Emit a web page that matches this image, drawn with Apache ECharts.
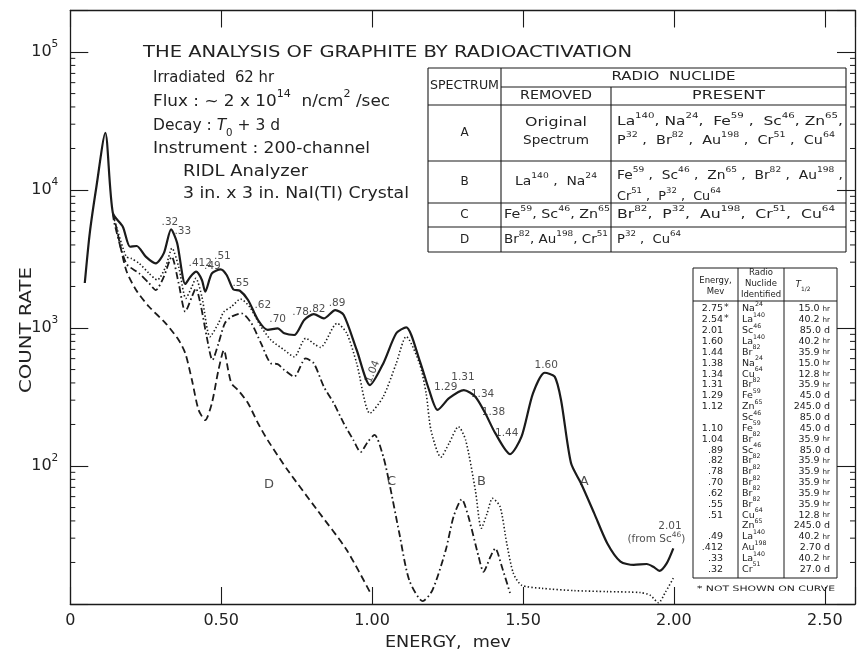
<!DOCTYPE html>
<html>
<head>
<meta charset="utf-8">
<script src="https://cdn.jsdelivr.net/npm/echarts@6.0.0/dist/echarts.min.js"></script>
<style>
html,body{margin:0;padding:0;background:#ffffff;}
#chart{width:858px;height:653px;}
</style>
</head>
<body>
<div id="chart"></div>
<script>
// ================= DATA =================
const xTickValues = [0, 0.5, 1.0, 1.5, 2.0, 2.5];
const xTickLabels = ['0', '0.50', '1.00', '1.50', '2.00', '2.50'];
const yDecadeValues = [100, 1000, 10000, 100000];
const yDecadeExponents = ['2', '3', '4', '5'];
const yMinorMultipliers = [2, 3, 4, 5, 6, 7, 8, 9];

// Spectrum A (solid) : energy (MeV) and count rate
const energyA = [0.048,0.0645,0.0865,0.116,0.141,0.174,0.198,0.220,0.250,0.283,0.310,0.334,0.354,0.381,0.398,0.417,0.436,0.447,0.469,0.498,0.518,0.540,0.562,0.589,0.622,0.654,0.687,0.709,0.742,0.775,0.807,0.840,0.878,0.906,0.949,0.993,1.037,1.080,1.113,1.157,1.189,1.217,1.255,1.304,1.342,1.375,1.408,1.457,1.495,1.533,1.572,1.605,1.626,1.659,1.692,1.736,1.779,1.823,1.867,1.910,1.932,1.952,1.976,1.998];
const countA = [2120,4880,10570,26000,6810,5420,3880,3930,3290,2944,3490,5190,4130,2085,2355,2560,2230,1833,2489,2661,2422,1905,1862,1596,1143,968,995,916,890,1143,1262,1175,1349,1242,693,386,554,916,1012,586,355,255,310,355,318,241,173,122,163,336,474,444,301,105,75,45.4,27.6,20.3,19.2,19.5,18.6,17.4,19.7,25.3];

// Spectrum B (dotted)
const energyB = [0.141,0.146,0.185,0.201,0.228,0.261,0.288,0.316,0.337,0.359,0.383,0.403,0.416,0.436,0.463,0.491,0.509,0.534,0.564,0.594,0.632,0.665,0.709,0.742,0.780,0.813,0.829,0.884,0.916,0.949,0.993,1.037,1.080,1.113,1.157,1.179,1.195,1.228,1.255,1.286,1.310,1.342,1.362,1.381,1.399,1.424,1.446,1.468,1.495,1.561,1.670,1.779,1.889,1.921,1.949,1.972,1.998];
const countB = [6810,6070,3290,3200,2944,2489,2230,2780,3785,2780,1641,1990,2291,1686,865,1082,1312,1426,1622,1426,1021,818,693,619,842,753,724,1082,916,554,241,318,554,867,554,336,182,116,146,193,154,67,35.4,45.4,58.3,50.7,27.6,16.7,13.7,13.0,12.5,12.3,12.1,11.6,10.2,12.2,15.4];

// Spectrum C (dash-dot)
const energyC = [0.141,0.146,0.185,0.228,0.261,0.283,0.310,0.336,0.359,0.381,0.403,0.416,0.431,0.452,0.471,0.491,0.512,0.534,0.567,0.600,0.632,0.665,0.687,0.709,0.742,0.780,0.807,0.840,0.873,0.906,0.938,0.962,0.985,1.008,1.037,1.057,1.090,1.123,1.168,1.200,1.244,1.270,1.297,1.319,1.353,1.369,1.392,1.408,1.430,1.457];
const countC = [6810,5740,2944,2489,2110,1884,2355,3290,2110,1312,1686,1941,1510,865,586,774,1082,1208,1278,1082,774,554,548,497,444,603,554,376,285,204,154,126,149,168,117,75.3,32.7,14.9,10.5,12.6,24.6,43,57.4,43,22,17.1,22,25.3,18.6,12.0];

// Spectrum D (dashed)
const energyD = [0.141,0.152,0.185,0.218,0.261,0.316,0.359,0.381,0.403,0.425,0.447,0.469,0.491,0.509,0.523,0.534,0.556,0.589,0.622,0.654,0.720,0.818,0.916,0.998];
const countD = [6810,5420,2630,1884,1426,1082,818,656,420,255,215,285,497,693,497,397,355,285,204,154,93.5,48,24.6,11.6];

// Peak annotations (text, energy, count where written)
const peakText = ['.32','.33','.412','.49','.51','.55','.62','.70','.78','.82','.89','1.04','1.29','1.31','1.34','1.38','1.44','1.60','2.01','(from Sc^46)'];
const peakEnergy = [0.330,0.373,0.4305,0.471,0.504,0.565,0.638,0.687,0.763,0.818,0.884,1.002,1.244,1.301,1.366,1.402,1.446,1.577,1.987,1.942];
const peakCount = [5860,5050,2944,2780,3290,2110,1469,1156,1291,1368,1524,482,372,440,333,245,174,540,36.3,29.4];

// Curve letters
const curveLetters = ['A','B','C','D'];
const curveLetterEnergy = [1.703,1.362,1.064,0.658];
const curveLetterCount = [76.9,76.9,76.9,72.8];

// Upper table
const spectrumNames = ['A','B','C','D'];
const removedText = [['Original','Spectrum'], ['La^140 ,  Na^24'], ['Fe^59, Sc^46, Zn^65'], ['Br^82, Au^198, Cr^51']];
const presentText = [
  ['La^140, Na^24,  Fe^59 ,  Sc^46, Zn^65,', 'P^32 ,  Br^82 ,  Au^198 ,  Cr^51 ,  Cu^64'],
  ['Fe^59 ,  Sc^46 ,  Zn^65 ,  Br^82 ,  Au^198 ,', 'Cr^51 ,  P^32 ,  Cu^64'],
  ['Br^82,  P^32,  Au^198,  Cr^51,  Cu^64'],
  ['P^32 ,  Cu^64']
];

// Lower table
const lineEnergy = ['2.75*','2.54*','2.01','1.60','1.44','1.38','1.34','1.31','1.29','1.12','','1.10','1.04','.89','.82','.78','.70','.62','.55','.51','','.49','.412','.33','.32'];
const lineNuclide = ['Na^24','La^140','Sc^46','La^140','Br^82','Na^24','Cu^64','Br^82','Fe^59','Zn^65','Sc^46','Fe^59','Br^82','Sc^46','Br^82','Br^82','Br^82','Br^82','Br^82','Cu^64','Zn^65','La^140','Au^198','La^140','Cr^51'];
const lineHalfLife = ['15.0 hr','40.2 hr','85.0 d','40.2 hr','35.9 hr','15.0 hr','12.8 hr','35.9 hr','45.0 d','245.0 d','85.0 d','45.0 d','35.9 hr','85.0 d','35.9 hr','35.9 hr','35.9 hr','35.9 hr','35.9 hr','12.8 hr','245.0 d','40.2 hr','2.70 d','40.2 hr','27.0 d'];

// ================= STYLE / HELPERS =================
const FONT = "'DejaVu Sans', 'Liberation Sans', Arial, sans-serif";
const INK = '#1b1b1b';
const TXT = '#222222';

function supMarkup(s) { return s.replace(/\^(\d+)/g, '{s|$1}'); }
function halfLifeMarkup(s) { return s.replace(/ hr$/, ' {h|hr}'); }

const mctx = document.createElement('canvas').getContext('2d');
function measurePlain(t, size, italic) {
  mctx.font = (italic ? 'italic ' : '') + size + 'px ' + FONT;
  return mctx.measureText(t).width;
}
function measureMarkup(markup, size) {
  const sizes = { s: size * 0.66, sub: size * 0.66, i: size, h: size * 0.75 };
  const re = /\{(\w+)\|([^}]*)\}/g;
  let w = 0, last = 0, m;
  while ((m = re.exec(markup))) {
    w += measurePlain(markup.slice(last, m.index), size);
    w += measurePlain(m[2], sizes[m[1]] || size, m[1] === 'i');
    last = re.lastIndex;
  }
  return w + measurePlain(markup.slice(last), size);
}
function richStyles(size) {
  return {
    s:   { fontSize: size * 0.66, fontFamily: FONT, fill: TXT, color: TXT, lineHeight: size * 0.75, verticalAlign: 'top' },
    sub: { fontSize: size * 0.66, fontFamily: FONT, fill: TXT, color: TXT, lineHeight: size * 0.75, verticalAlign: 'bottom' },
    i:   { fontSize: size, fontStyle: 'italic', fontFamily: FONT, fill: TXT, color: TXT, lineHeight: size * 1.6 },
    h:   { fontSize: size * 0.75, fontFamily: FONT, fill: TXT, color: TXT, lineHeight: size * 1.6 }
  };
}
function textEl(markup, x, y, size, opts) {
  opts = opts || {};
  const sx = opts.width ? opts.width / measureMarkup(markup, size) : 1;
  return {
    type: 'text', x: x, y: y, scaleX: sx, rotation: opts.rotation || 0, silent: true, z: 50,
    style: {
      text: markup, x: 0, y: 0, fontSize: size, fontFamily: FONT, fill: TXT,
      align: opts.align || 'left', verticalAlign: 'middle', lineHeight: size * 1.6,
      rich: richStyles(size)
    }
  };
}
function lineEl(x1, y1, x2, y2, w) {
  return { type: 'line', silent: true, z: 40, shape: { x1: x1, y1: y1, x2: x2, y2: y2 }, style: { stroke: INK, lineWidth: w || 1 } };
}
function pairs(xs, ys) { return xs.map((x, i) => [x, ys[i]]); }

// ================= GRAPHIC LAYOUT =================
const graphics = [];
// Heading block
graphics.push(textEl('THE ANALYSIS OF GRAPHITE BY RADIOACTIVATION', 143, 53, 15, { width: 489 }));
graphics.push(textEl('Irradiated  62 hr', 153, 78, 16, { width: 121 }));
graphics.push(textEl('Flux : ~ 2 x 10{s|14}  n/cm{s|2} /sec', 153, 102, 16, { width: 237 }));
graphics.push(textEl('Decay : {i|T}{sub|0} + 3 d', 153, 126, 16, { width: 127 }));
graphics.push(textEl('Instrument : 200-channel', 153, 149, 16, { width: 217 }));
graphics.push(textEl('RIDL Analyzer', 183, 172, 16, { width: 125 }));
graphics.push(textEl('3 in. x 3 in. NaI(TI) Crystal', 183, 194, 16, { width: 226 }));

// Axis titles
graphics.push(textEl('COUNT RATE', 27, 330, 16, { align: 'center', width: 126, rotation: Math.PI / 2 }));
graphics.push(textEl('ENERGY,  mev', 448, 643, 16, { align: 'center', width: 126 }));

// Upper table
const T1 = { x0: 428, x1: 501, x2: 611, x3: 846, rows: [68, 87, 105, 161, 203, 227, 252] };
[T1.rows[0], T1.rows[2], T1.rows[3], T1.rows[4], T1.rows[5], T1.rows[6]].forEach(y => graphics.push(lineEl(T1.x0, y, T1.x3, y, 1.1)));
graphics.push(lineEl(T1.x1, T1.rows[1], T1.x3, T1.rows[1], 1.1));
graphics.push(lineEl(T1.x0, T1.rows[0], T1.x0, T1.rows[6], 1.1));
graphics.push(lineEl(T1.x1, T1.rows[0], T1.x1, T1.rows[6], 1.1));
graphics.push(lineEl(T1.x2, T1.rows[1], T1.x2, T1.rows[6], 1.1));
graphics.push(lineEl(T1.x3, T1.rows[0], T1.x3, T1.rows[6], 1.1));
graphics.push(textEl('SPECTRUM', (T1.x0 + T1.x1) / 2, 86, 12, { align: 'center', width: 69 }));
graphics.push(textEl('RADIO  NUCLIDE', (T1.x1 + T1.x3) / 2, 77, 12, { align: 'center', width: 124 }));
graphics.push(textEl('REMOVED', (T1.x1 + T1.x2) / 2, 96, 12, { align: 'center', width: 72 }));
graphics.push(textEl('PRESENT', (T1.x2 + T1.x3) / 2, 96, 12, { align: 'center', width: 73 }));
const rowCenters = [133, 182, 215, 239.5];
const presentLineY = [[122, 141], [176, 197], [215], [239.5]];
const removedLineY = [[123, 141], [182], [215], [239.5]];
const presentWidths = [[226, 218], [226, 104], [218], [64]];
const removedWidths = [[62, 66], [82], [106], [104]];
spectrumNames.forEach((n, i) => {
  graphics.push(textEl(n, (T1.x0 + T1.x1) / 2, rowCenters[i], 12, { align: 'center' }));
  removedText[i].forEach((t, j) => {
    const centred = i < 2;
    graphics.push(textEl(supMarkup(t), centred ? (T1.x1 + T1.x2) / 2 : T1.x1 + 3, removedLineY[i][j], 12,
      { align: centred ? 'center' : 'left', width: removedWidths[i][j] }));
  });
  presentText[i].forEach((t, j) => {
    graphics.push(textEl(supMarkup(t), T1.x2 + 6, presentLineY[i][j], 12, { width: presentWidths[i][j] }));
  });
});

// Lower table
const T2 = { x0: 693, x1: 738, x2: 784, x3: 837, top: 268, head: 301, bottom: 578, firstRow: 309, step: 10.85 };
graphics.push(lineEl(T2.x0, T2.top, T2.x3, T2.top, 1));
graphics.push(lineEl(T2.x0, T2.head, T2.x3, T2.head, 1));
graphics.push(lineEl(T2.x0, T2.bottom, T2.x3, T2.bottom, 1));
[T2.x0, T2.x1, T2.x2, T2.x3].forEach(x => graphics.push(lineEl(x, T2.top, x, T2.bottom, 1)));
graphics.push(textEl('Energy,', (T2.x0 + T2.x1) / 2, 281, 8.5, { align: 'center' }));
graphics.push(textEl('Mev', (T2.x0 + T2.x1) / 2, 292, 8.5, { align: 'center' }));
graphics.push(textEl('Radio', (T2.x1 + T2.x2) / 2, 273, 8.5, { align: 'center' }));
graphics.push(textEl('Nuclide', (T2.x1 + T2.x2) / 2, 284, 8.5, { align: 'center' }));
graphics.push(textEl('Identified', (T2.x1 + T2.x2) / 2, 295, 8.5, { align: 'center' }));
graphics.push(textEl('{i|T}{sub|1/2}', 803, 285, 9, { align: 'center' }));
lineEnergy.forEach((e, i) => {
  const y = T2.firstRow + i * T2.step;
  if (e) {
    const star = e.endsWith('*');
    graphics.push(textEl(star ? e.slice(0, -1) : e, 723, y, 9.5, { align: 'right' }));
    if (star) graphics.push(textEl('*', 724, y - 1, 9.5));
  }
  graphics.push(textEl(supMarkup(lineNuclide[i]), 742, y, 9.5));
  graphics.push(textEl(halfLifeMarkup(lineHalfLife[i]), 830, y, 9.5, { align: 'right' }));
});
graphics.push(textEl('* NOT SHOWN ON CURVE', 697, 589, 7.5, { width: 138 }));

// ================= CHART =================
const chart = echarts.init(document.getElementById('chart'), null, { renderer: 'canvas' });

const axisLineStyle = { color: INK, width: 1.3 };
const minorTickData = [];
[10, 100, 1000, 10000].forEach(d => yMinorMultipliers.forEach(m => minorTickData.push([0, m * d])));

function xLabel(v) {
  const i = xTickValues.findIndex(t => Math.abs(t - v) < 1e-6);
  return i < 0 ? '' : xTickLabels[i];
}
function yLabel(v) {
  const i = yDecadeValues.findIndex(d => Math.abs(d - v) / d < 1e-6);
  return i < 0 ? '' : '{b|10}{e|' + yDecadeExponents[i] + '}';
}

const noteData = peakText.map((t, i) => ({
  value: [peakEnergy[i], peakCount[i]], name: supMarkup(t),
  label: t === '1.04' ? { rotate: 68 } : {}
}));
const letterData = curveLetters.map((t, i) => ({ value: [curveLetterEnergy[i], curveLetterCount[i]], name: t }));

const SMOOTH = 0.25;
const option = {
  animation: false,
  backgroundColor: '#ffffff',
  grid: { left: 70.3, right: -6, top: 10.5, bottom: 49, containLabel: false },
  xAxis: [
    { type: 'value', position: 'bottom', min: 0, max: 2.6, interval: 0.5,
      axisLine: { show: true, onZero: false, lineStyle: axisLineStyle },
      axisTick: { show: true, inside: true, length: 17, lineStyle: { color: INK, width: 1.1 } },
      axisLabel: { formatter: xLabel, fontSize: 16, color: TXT, fontFamily: FONT, margin: 9, showMaxLabel: true, showMinLabel: true },
      splitLine: { show: false } },
    { type: 'value', position: 'top', min: 0, max: 2.6, interval: 0.5,
      axisLine: { show: true, onZero: false, lineStyle: axisLineStyle },
      axisTick: { show: true, inside: true, length: 17, lineStyle: { color: INK, width: 1.1 } },
      axisLabel: { show: false }, splitLine: { show: false } }
  ],
  yAxis: [
    { type: 'log', logBase: 10, position: 'left', min: 10, max: 200000,
      axisLine: { show: true, onZero: false, lineStyle: axisLineStyle },
      axisTick: { show: true, inside: true, length: 18, lineStyle: { color: INK, width: 1.1 } },
      axisLabel: { formatter: yLabel, margin: 12, color: TXT, fontFamily: FONT,
        rich: { b: { fontSize: 16, fontFamily: FONT, color: TXT, lineHeight: 26 },
                e: { fontSize: 10.5, fontFamily: FONT, color: TXT, lineHeight: 13, verticalAlign: 'top' } } },
      splitLine: { show: false }, minorTick: { show: false } },
    { type: 'log', logBase: 10, position: 'right', min: 10, max: 200000,
      axisLine: { show: true, onZero: false, lineStyle: axisLineStyle },
      axisTick: { show: true, inside: true, length: 18, lineStyle: { color: INK, width: 1.1 } },
      axisLabel: { show: false }, splitLine: { show: false } }
  ],
  graphic: graphics,
  series: [
    { type: 'custom', name: 'minor ticks', silent: true, xAxisIndex: 0, yAxisIndex: 0, clip: false,
      data: minorTickData, encode: { x: 0, y: 1 },
      renderItem: function (params, api) {
        const v = api.value(1);
        const pl = api.coord([0, v]);
        const pr = api.coord([2.6, v]);
        const st = { stroke: INK, lineWidth: 1 };
        return { type: 'group', children: [
          { type: 'line', shape: { x1: pl[0], y1: pl[1], x2: pl[0] + 5, y2: pl[1] }, style: st },
          { type: 'line', shape: { x1: pr[0], y1: pr[1], x2: pr[0] - 5, y2: pr[1] }, style: st }
        ] };
      } },
    { type: 'line', name: 'D', data: pairs(energyD, countD), symbol: 'none', smooth: SMOOTH,
      lineStyle: { color: INK, width: 1.8, type: [7, 4] }, z: 3 },
    { type: 'line', name: 'C', data: pairs(energyC, countC), symbol: 'none', smooth: SMOOTH,
      lineStyle: { color: INK, width: 1.8, type: [7, 3, 1.6, 3] }, z: 3 },
    { type: 'line', name: 'B', data: pairs(energyB, countB), symbol: 'none', smooth: SMOOTH,
      lineStyle: { color: INK, width: 1.6, type: [1.4, 2.2] }, z: 4 },
    { type: 'line', name: 'A', data: pairs(energyA, countA), symbol: 'none', smooth: SMOOTH,
      lineStyle: { color: INK, width: 2.2, type: 'solid' }, z: 5 },
    { type: 'scatter', name: 'peak labels', data: noteData, symbolSize: 0, silent: true, z: 6,
      label: { show: true, position: 'inside', formatter: p => p.name, fontSize: 10.5, color: TXT, fontFamily: FONT,
        rich: { s: { fontSize: 7.5, fontFamily: FONT, color: TXT, lineHeight: 9, verticalAlign: 'top' } }, lineHeight: 16 } },
    { type: 'scatter', name: 'curve letters', data: letterData, symbolSize: 0, silent: true, z: 6,
      label: { show: true, position: 'inside', formatter: p => p.name, fontSize: 13, color: TXT, fontFamily: FONT } }
  ]
};
chart.setOption(option);
</script>
</body>
</html>
